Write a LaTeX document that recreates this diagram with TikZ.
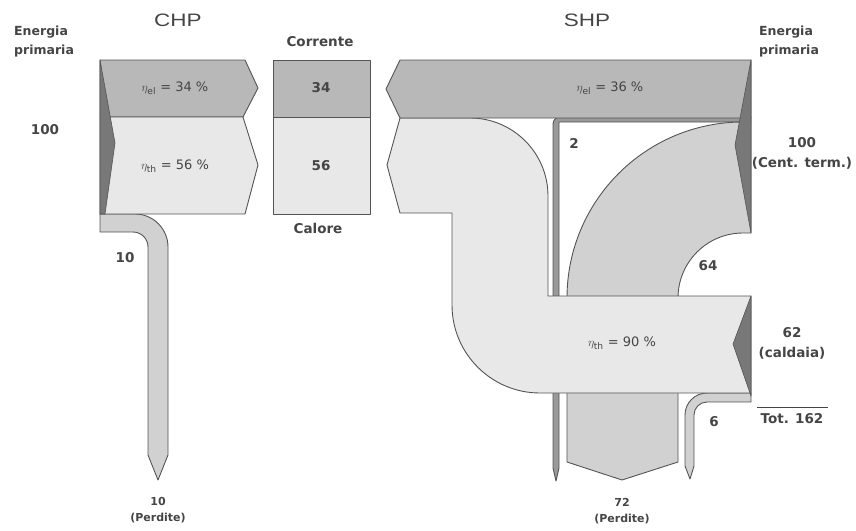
\documentclass[tikz,border=0pt]{standalone}
\usepackage{fontspec}
\setmainfont{DejaVu Sans}
\newfontfamily\headfont{Liberation Sans}
\definecolor{elc}{gray}{0.72}
\definecolor{thc}{gray}{0.91}
\definecolor{lossc}{gray}{0.82}
\definecolor{notchc}{gray}{0.47}
\definecolor{edgec}{gray}{0.33}
\definecolor{txtc}{gray}{0.27}
\definecolor{thinc}{gray}{0.6}
\begin{document}
\begin{tikzpicture}[x=1pt,y=-1pt,line join=round,
  band/.style={draw=edgec,line width=0.9pt},
  notch/.style={fill=notchc,draw=edgec,line width=0.6pt},
  lbl/.style={text=txtc,inner sep=0pt,align=center,font=\bfseries\fontsize{13.5}{20}\selectfont},
  small/.style={text=txtc,inner sep=0pt,align=center,font=\bfseries\fontsize{11}{16}\selectfont},
  eta/.style={text=txtc,inner sep=0pt,font=\fontsize{13}{15}\selectfont},
  head/.style={text=txtc,inner sep=0pt,font=\headfont\fontsize{18}{20}\selectfont},
  prim/.style={text=txtc,inner sep=0pt,align=left,anchor=west,font=\bfseries\fontsize{12.5}{19}\selectfont}]
\useasboundingbox (0,0) rectangle (856,530);
% ---------------- CHP ----------------
\draw[band,fill=lossc] (100,214) -- (135,214) arc[start angle=-90,end angle=0,radius=33]
  -- (168,455) -- (158,480) -- (148,455) -- (148,247)
  arc[start angle=0,end angle=-90,radius=15] -- (100,232) -- cycle;
\draw[band,fill=elc] (100,60) -- (245,60) -- (258,88) -- (243,117) -- (100,117) -- cycle;
\draw[band,fill=thc] (100,117) -- (243,117) -- (258,165) -- (245,214) -- (100,214) -- cycle;
\draw[notch] (100,60) -- (115,143) -- (105,214) -- (100,214) -- cycle;
% middle box
\draw[band,fill=elc] (273,60) rectangle (370,117);
\draw[band,fill=thc] (273,117) rectangle (370,214);
% ---------------- SHP ----------------
\draw[band,fill=thinc] (751,117) -- (560,117) arc[start angle=-90,end angle=-180,radius=7]
  -- (553,468) -- (556,481) -- (559,468) -- (559,122) -- (751,122) -- cycle;
\draw[band,fill=lossc] (751,122) -- (743,122) arc[start angle=-90,end angle=-180,radius=176]
  -- (567,462) -- (622,480) -- (678,462) -- (678,298)
  arc[start angle=180,end angle=270,radius=65] -- (751,233) -- cycle;
\draw[band,fill=lossc] (751,393) -- (707,393) arc[start angle=-90,end angle=-180,radius=22]
  -- (685,466) -- (690,479) -- (694,466) -- (694,415)
  arc[start angle=180,end angle=270,radius=13] -- (751,402) -- cycle;
\draw[band,fill=thc] (400,118) -- (470,118) arc[start angle=-90,end angle=0,radius=78]
  -- (548,296) -- (751,296) -- (751,393) -- (540,393)
  arc[start angle=90,end angle=180,radius=88] -- (452,213) -- (400,213) -- (387,165) -- cycle;
\draw[band,fill=elc] (751,60) -- (400,60) -- (386,89) -- (400,118) -- (751,118) -- cycle;
\draw[notch] (751,60) -- (735,145) -- (751,233) -- cycle;
\draw[notch] (751,296) -- (733,344) -- (751,396) -- cycle;
% ---------------- texts ----------------
\node[head] (chp) at (178,20) {\scalebox{1.25}[1]{CHP}};
\node[head] (shp) at (587,20) {\scalebox{1.25}[1]{SHP}};
\node[prim] (epl) at (14,42) {Energia\\primaria};
\node[prim] (epr) at (759,42) {Energia\\primaria};
\node[lbl] (in1) at (45,130) {100};
\node[lbl] (cor) at (320,42) {Corrente};
\node[lbl] (cal) at (318,228) {Calore};
\node[lbl] (v34) at (321,88) {34};
\node[lbl] (v56) at (321,166) {56};
\node[eta] (e1) at (175,88) {$\eta_{\mathrm{el}}$ = 34 \%};
\node[eta] (e2) at (175,166) {$\eta_{\mathrm{th}}$ = 56 \%};
\node[eta] (e3) at (610,88) {$\eta_{\mathrm{el}}$ = 36 \%};
\node[eta] (e4) at (622,343) {$\eta_{\mathrm{th}}$ = 90 \%};
\node[lbl] (l10) at (125,258) {10};
\node[small] (p10) at (158,510) {10\\(Perdite)};
\node[lbl] (l2) at (574,143) {2};
\node[lbl] (l64) at (708,266) {64};
\node[lbl] (l6) at (714,422) {6};
\node[lbl] (cent) at (802,153) {100\\(Cent. term.)};
\node[lbl] (cald) at (792,343) {62\\(caldaia)};
\node[lbl] (tot) at (792,419) {Tot. 162};
\coordinate (tl) at (757,407);
\coordinate (tr) at (828,407);
\draw[txtc,line width=0.8pt] (tl) -- (tr);
\node[small] (p72) at (622,511) {72\\(Perdite)};
\end{tikzpicture}
\end{document}
